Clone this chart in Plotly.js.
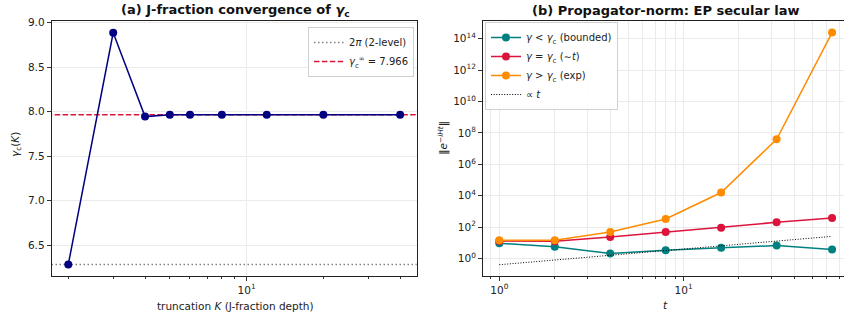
<!DOCTYPE html>
<html>
<head>
<meta charset="utf-8">
<script src="https://cdn.plot.ly/plotly-3.0.1.min.js"></script>
<style>html,body{margin:0;padding:0;background:#fff}#chart{width:844px;height:320px}</style>
</head>
<body>
<div id="chart"></div>
<script>
// ---- Panel (a) data ----
const truncK = [2, 3, 4, 5, 6, 8, 12, 20, 40];
const gammaC = [6.283, 8.888, 7.945, 7.966, 7.966, 7.966, 7.966, 7.966, 7.966];
const twoPi = 6.2832;
const gammaInf = 7.966;

// ---- Panel (b) data ----
const tVals = [1, 2, 4, 8, 16, 32, 64];
const normBounded = [9.3, 5.5, 2.1, 3.4, 4.8, 6.6, 3.7];
const normEP = [13, 12.4, 23.7, 49, 92, 200, 380];
const normExp = [14.4, 14.4, 49, 325, 15800, 3.9e7, 2.4e14];
const normLinear = [0.4, 0.8, 1.6, 3.2, 6.4, 12.8, 25.6];

const yTickVals = [1, 1e2, 1e4, 1e6, 1e8, 1e10, 1e12, 1e14];
const yTickText = ['10<sup>0</sup>','10<sup>2</sup>','10<sup>4</sup>','10<sup>6</sup>','10<sup>8</sup>','10<sup>10</sup>','10<sup>12</sup>','10<sup>14</sup>'];

const FONT = 'DejaVu Sans, sans-serif';
const gridC = '#ebebeb';

const traces = [
  {x: [truncK[0]*0.5, truncK[truncK.length-1]*2], y: [twoPi, twoPi], mode: 'lines', name: '2<i>π</i> (2-level)',
   line: {color: 'gray', dash: '1.5px,2.5px', width: 1.5}, xaxis: 'x', yaxis: 'y', legend: 'legend'},
  {x: [truncK[0]*0.5, truncK[truncK.length-1]*2], y: [gammaInf, gammaInf], mode: 'lines', name: '<i>γ</i><sub>c</sub><sup>∞</sup> = 7.966',
   line: {color: 'crimson', dash: '5.5px,2.4px', width: 1.5}, xaxis: 'x', yaxis: 'y', legend: 'legend'},
  {x: truncK, y: gammaC, mode: 'lines+markers', showlegend: false,
   line: {color: 'navy', width: 1.5}, marker: {color: 'navy', size: 8}, xaxis: 'x', yaxis: 'y'},

  {x: tVals, y: normBounded, mode: 'lines+markers', name: '<i>γ</i> < <i>γ</i><sub>c</sub> (bounded)',
   line: {color: 'teal', width: 1.5}, marker: {color: 'teal', size: 8}, xaxis: 'x2', yaxis: 'y2', legend: 'legend2'},
  {x: tVals, y: normEP, mode: 'lines+markers', name: '<i>γ</i> = <i>γ</i><sub>c</sub> (∼<i>t</i>)',
   line: {color: 'crimson', width: 1.5}, marker: {color: 'crimson', size: 8}, xaxis: 'x2', yaxis: 'y2', legend: 'legend2'},
  {x: tVals, y: normExp, mode: 'lines+markers', name: '<i>γ</i> > <i>γ</i><sub>c</sub> (exp)',
   line: {color: 'darkorange', width: 1.5}, marker: {color: 'darkorange', size: 8}, xaxis: 'x2', yaxis: 'y2', legend: 'legend2'},
  {x: tVals, y: normLinear, mode: 'lines', name: '∝ <i>t</i>',
   line: {color: 'black', dash: '1px,1.65px', width: 1}, xaxis: 'x2', yaxis: 'y2', legend: 'legend2'}
];

const tickFont = {family: FONT, size: 10.5, color: '#222'};
const yDom = [1 - 276/320, 1 - 21/320];

const layout = {
  width: 844, height: 320,
  margin: {l: 0, r: 0, t: 0, b: 0},
  paper_bgcolor: 'white', plot_bgcolor: 'white',
  font: {family: FONT, size: 10.5, color: '#222'},
  xaxis: {
    type: 'log', domain: [51.7/844, 416.7/844], range: [0.236, 1.667],
    tickmode: 'array', tickvals: [10], ticktext: ['10<sup>1</sup>'],
    ticks: 'outside', ticklen: 4, tickcolor: '#333', tickfont: tickFont,
    showgrid: true, gridcolor: gridC, gridwidth: 1,
    minor: {tickmode: 'array', tickvals: [2,3,4,5,6,7,8,9,20,30,40], ticks: 'outside', ticklen: 2, tickcolor: '#333', showgrid: false},
    showline: true, linecolor: '#222', linewidth: 1, mirror: true, zeroline: false, automargin: false, anchor: 'y'
  },
  yaxis: {
    domain: yDom, range: [6.153, 9.02],
    tickmode: 'array', tickvals: [6.5, 7.0, 7.5, 8.0, 8.5, 9.0], ticktext: ['6.5','7.0','7.5','8.0','8.5','9.0'],
    ticks: 'outside', ticklen: 4, tickcolor: '#333', tickfont: tickFont,
    showgrid: true, gridcolor: gridC, gridwidth: 1,
    showline: true, linecolor: '#222', linewidth: 1, mirror: true, zeroline: false, automargin: false, anchor: 'x'
  },
  xaxis2: {
    type: 'log', domain: [483/844, 1], range: [-0.0885, 1.871],
    tickmode: 'array', tickvals: [1, 10], ticktext: ['10<sup>0</sup>', '10<sup>1</sup>'],
    ticks: 'outside', ticklen: 4, tickcolor: '#333', tickfont: tickFont,
    showgrid: true, gridcolor: gridC, gridwidth: 1,
    minor: {tickmode: 'array', tickvals: [0.9,2,3,4,5,6,7,8,9,20,30,40,50,60,70], ticks: 'outside', ticklen: 2, tickcolor: '#333', showgrid: true, gridcolor: gridC, gridwidth: 1},
    showline: true, linecolor: '#222', linewidth: 1, mirror: true, zeroline: false, automargin: false, anchor: 'y2'
  },
  yaxis2: {
    type: 'log', domain: yDom, range: [-1.115, 15.12],
    tickmode: 'array', tickvals: yTickVals, ticktext: yTickText,
    ticks: 'outside', ticklen: 4, tickcolor: '#333', tickfont: tickFont,
    showgrid: true, gridcolor: gridC, gridwidth: 1,
    showline: true, linecolor: '#222', linewidth: 1, mirror: false, zeroline: false, automargin: false, anchor: 'x2'
  },
  legend: {
    x: 414/844, y: 1 - 27/320, xanchor: 'right', yanchor: 'top',
    bgcolor: 'rgba(255,255,255,0.9)', bordercolor: '#d0d0d0', borderwidth: 1,
    font: {family: FONT, size: 10, color: '#222'}, itemwidth: 30, tracegroupgap: 0
  },
  legend2: {
    x: 485/844, y: 1 - 22/320, xanchor: 'left', yanchor: 'top',
    bgcolor: 'rgba(255,255,255,0.9)', bordercolor: '#d0d0d0', borderwidth: 1,
    font: {family: FONT, size: 10, color: '#222'}, itemwidth: 30, tracegroupgap: 0
  },
  annotations: [
    {text: '<b>(a) J-fraction convergence of <i>γ</i><sub>c</sub></b>', x: 235, y: 10, showarrow: false,
     font: {family: FONT, size: 13, color: '#111'}},
    {text: '<b>(b) Propagator-norm: EP secular law</b>', x: 665.5, y: 10, showarrow: false,
     font: {family: FONT, size: 13, color: '#111'}},
    {text: 'truncation <i>K</i> (J-fraction depth)', x: 235, y: 306, showarrow: false, font: {family: FONT, size: 10.5, color: '#222'}},
    {text: '<i>t</i>', x: 665.7, y: 305, showarrow: false, font: {family: FONT, size: 10.5, color: '#222'}},
    {text: '<i>γ</i><sub>c</sub>(<i>K</i>)', x: 16, y: 145, textangle: -90, showarrow: false, font: {family: FONT, size: 10.5, color: '#222'}},
    {text: '‖<i>e</i><sup>−<i>iHt</i></sup>‖', x: 442.7, y: 138, textangle: -90, showarrow: false, font: {family: FONT, size: 10.5, color: '#222'}}
  ]
};
// convert pixel positions of annotations to paper fractions
layout.annotations.forEach(a => { a.xref = 'paper'; a.yref = 'paper'; a.x = a.x / 844; a.y = 1 - a.y / 320; a.xanchor = 'center'; a.yanchor = 'middle'; });

Plotly.newPlot('chart', traces, layout, {staticPlot: true, displayModeBar: false});
</script>
</body>
</html>
